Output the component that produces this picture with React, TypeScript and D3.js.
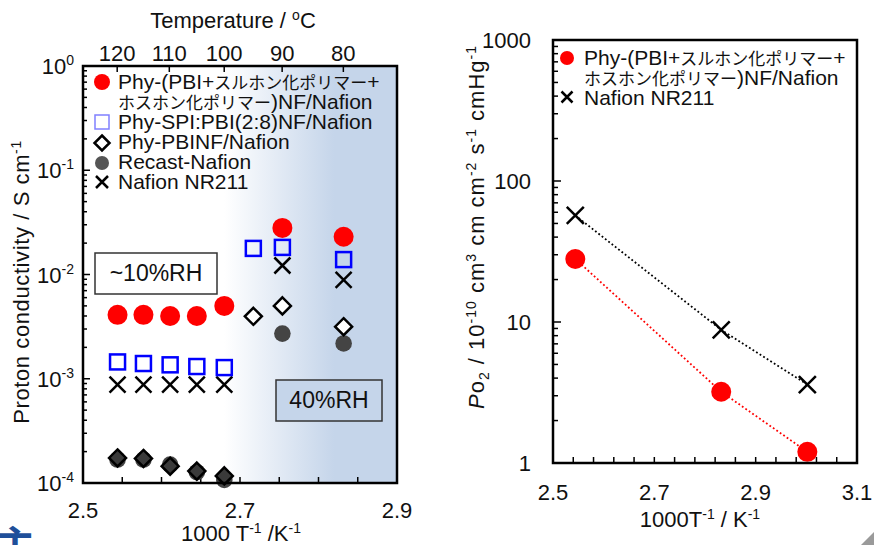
import React from 'react';
import * as d3 from 'd3';

// conductivity chart (1000/T in K^-1, S/cm)
const redX = [2.544, 2.577, 2.611, 2.645, 2.68, 2.754, 2.832];
const redY = [4.1e-3, 4.1e-3, 4.0e-3, 4.0e-3, 5.0e-3, 2.8e-2, 2.3e-2];
const spiX = [2.544, 2.577, 2.611, 2.645, 2.68, 2.717, 2.754, 2.832];
const spiY = [1.45e-3, 1.4e-3, 1.36e-3, 1.31e-3, 1.28e-3, 1.78e-2, 1.82e-2, 1.39e-2];
const pbiX = [2.544, 2.577, 2.611, 2.645, 2.68, 2.717, 2.754, 2.832];
const pbiY = [1.74e-4, 1.72e-4, 1.45e-4, 1.3e-4, 1.17e-4, 3.97e-3, 5.0e-3, 3.16e-3];
const recastX = [2.544, 2.577, 2.611, 2.645, 2.68, 2.754, 2.832];
const recastY = [1.68e-4, 1.68e-4, 1.5e-4, 1.27e-4, 1.07e-4, 2.71e-3, 2.18e-3];
const nrX = [2.544, 2.577, 2.611, 2.645, 2.68, 2.754, 2.832];
const nrY = [8.8e-4, 8.8e-4, 8.8e-4, 8.8e-4, 8.8e-4, 1.22e-2, 8.9e-3];

const leftXTicks = [2.5, 2.7, 2.9];
const tempLabels = [120, 110, 100, 90, 80];
const leftExps = [0, -1, -2, -3, -4];

// O2 permeability chart
const permX = [2.544, 2.832, 3.002];
const permPhy = [28, 3.2, 1.2];
const permNR = [57, 8.8, 3.6];
const rightXTicks = [2.5, 2.7, 2.9, 3.1];
const rightYTicks = [1, 10, 100, 1000];

// legend names split into latin / japanese runs
const phyName1 = ['Phy-(PBI+', 'スルホン化ポリマー', '+'];
const phyName2 = ['', 'ホスホン化ポリマー', ')NF/Nafion'];
const spiName = 'Phy-SPI:PBI(2:8)NF/Nafion';
const pbiName = 'Phy-PBINF/Nafion';
const recastName = 'Recast-Nafion';
const nrName = 'Nafion NR211';

const FONT = "'Liberation Sans', Arial, 'Noto Sans CJK JP', sans-serif";
const JP = "'Noto Sans CJK JP', sans-serif";
const BG = '#c5d5ea';

const Cross = ({x, y, s}: {x: number; y: number; s: number}) => (
  <path d={`M${x - s},${y - s}L${x + s},${y + s}M${x - s},${y + s}L${x + s},${y - s}`}
    stroke="#000" strokeWidth={2.5} fill="none" />
);

const Diamond = ({x, y, s, fill}: {x: number; y: number; s: number; fill: string}) => (
  <path d={`M${x},${y - s}L${x + s},${y}L${x},${y + s}L${x - s},${y}Z`}
    stroke="#000" strokeWidth={2.5} fill={fill} />
);

const MixedLine = ({x, y, parts}: {x: number; y: number; parts: string[]}) => (
  <text x={x} y={y} fontSize={21}>
    {parts[0]}<tspan fontFamily={JP} fontSize={17}>{parts[1]}</tspan>{parts[2]}
  </text>
);

function logTicks(lo: number, hi: number) {
  const out: {v: number; major: boolean}[] = [];
  for (let e = Math.round(Math.log10(lo)); e < Math.round(Math.log10(hi)); e++) {
    for (let k = 1; k <= 9; k++) out.push({v: k * Math.pow(10, e), major: k === 1});
  }
  out.push({v: hi, major: true});
  return out;
}

function LeftChart() {
  const x = d3.scaleLinear().domain([2.5, 2.9]).range([83, 397]);
  const y = d3.scaleLog().domain([1e-4, 1]).range([483, 66]);
  const [x0, x1] = x.range();
  const [yb, yt] = y.range();
  const minorX = d3.range(2.55, 2.9, 0.05);

  return (
    <g>
      <defs>
        <linearGradient id="rhBg" gradientUnits="userSpaceOnUse" x1={x(2.68)} x2={x(2.82)} y1={0} y2={0}>
          <stop offset="0" stopColor="#ffffff" />
          <stop offset="1" stopColor={BG} />
        </linearGradient>
      </defs>
      <rect x={x0} y={yt} width={x1 - x0} height={yb - yt} fill="url(#rhBg)" />

      {logTicks(1e-4, 1).map((t, i) => (
        <line key={i} x1={x0} x2={x0 + (t.major ? 7 : 4)} y1={y(t.v)} y2={y(t.v)} stroke="#000" strokeWidth={1.5} />
      ))}
      {minorX.map((v, i) => (
        <line key={i} x1={x(v)} x2={x(v)} y1={yb} y2={yb - 6} stroke="#000" strokeWidth={1.5} />
      ))}
      {tempLabels.map((t) => {
        const px = x(1000 / (t + 273.15));
        return (
          <g key={t}>
            <line x1={px} x2={px} y1={yt} y2={yt + 6} stroke="#000" strokeWidth={1.5} />
            <text x={px} y={61} textAnchor="middle" fontSize={22}>{t}</text>
          </g>
        );
      })}
      <text x={233} y={28} textAnchor="middle" fontSize={22}>
        Temperature / <tspan dy={-8} fontSize={14}>o</tspan><tspan dy={8}>C</tspan>
      </text>

      {leftXTicks.map((v) => (
        <text key={v} x={x(v)} y={518} textAnchor="middle" fontSize={22}>{v.toFixed(1)}</text>
      ))}
      {leftExps.map((e) => (
        <text key={e} x={74} y={y(Math.pow(10, e)) + 8} textAnchor="end" fontSize={22}>
          10<tspan dy={-9} fontSize={14}>{e}</tspan>
        </text>
      ))}
      <text transform="translate(29,282) rotate(-90)" textAnchor="middle" fontSize={22} letterSpacing={0.6}>
        Proton conductivity / S cm<tspan dy={-8} fontSize={14}>-1</tspan>
      </text>
      <text x={241} y={541} textAnchor="middle" fontSize={22}>
        1000 T<tspan dy={-8} fontSize={14}>-1</tspan><tspan dy={8}> /K</tspan><tspan dy={-8} fontSize={14}>-1</tspan>
      </text>

      <rect x={95} y={253} width={122} height={41} fill="#fff" stroke="#333" strokeWidth={1.5} />
      <text x={156} y={281} textAnchor="middle" fontSize={23}>~10%RH</text>
      <rect x={276} y={380} width={106} height={41} fill={BG} stroke="#333" strokeWidth={1.5} />
      <text x={329} y={408} textAnchor="middle" fontSize={23}>40%RH</text>

      {recastX.map((v, i) => (
        <circle key={i} cx={x(v)} cy={y(recastY[i])} r={8.3} fill="#444" />
      ))}
      {pbiX.map((v, i) => {
        const hit = recastX.some((w, j) => Math.abs(x(w) - x(v)) < 4 && Math.abs(y(recastY[j]) - y(pbiY[i])) < 12);
        return <Diamond key={i} x={x(v)} y={y(pbiY[i])} s={8.5} fill={hit ? '#3a3a3a' : '#fff'} />;
      })}
      {nrX.map((v, i) => (
        <Cross key={i} x={x(v)} y={y(nrY[i])} s={8} />
      ))}
      {spiX.map((v, i) => (
        <rect key={i} x={x(v) - 7.5} y={y(spiY[i]) - 7.5} width={15} height={15} fill="none" stroke="#0000ff" strokeWidth={2.5} />
      ))}
      {redX.map((v, i) => (
        <circle key={i} cx={x(v)} cy={y(redY[i])} r={10} fill="#ff0000" />
      ))}

      <circle cx={102} cy={82} r={8} fill="#ff0000" />
      <rect x={95} y={115} width={14} height={14} fill="none" stroke="#8080ff" strokeWidth={1.5} />
      <Diamond x={102} y={143} s={7.5} fill="#fff" />
      <circle cx={102} cy={163} r={7} fill="#555" />
      <Cross x={102} y={182} s={6} />
      <MixedLine x={118} y={89} parts={phyName1} />
      <MixedLine x={118} y={109} parts={phyName2} />
      {[spiName, pbiName, recastName, nrName].map((s, i) => (
        <text key={s} x={118} y={129 + i * 20} fontSize={21}>{s}</text>
      ))}

      <rect x={x0} y={yt} width={x1 - x0} height={yb - yt} fill="none" stroke="#000" strokeWidth={2.5} />
    </g>
  );
}

function RightChart() {
  const x = d3.scaleLinear().domain([2.5, 3.1]).range([553, 857]);
  const y = d3.scaleLog().domain([1, 1000]).range([463, 40]);
  const [x0, x1] = x.range();
  const [yb, yt] = y.range();
  const minorX = d3.range(2.54, 3.09, 0.04);
  const line = d3.line<number>().x((d, i) => x(permX[i])).y((d) => y(d));

  return (
    <g>
      {logTicks(1, 1000).map((t, i) => (
        <line key={i} x1={x0} x2={x0 + (t.major ? 8 : 5)} y1={y(t.v)} y2={y(t.v)} stroke="#000" strokeWidth={1.5} />
      ))}
      {minorX.map((v, i) => (
        <line key={i} x1={x(v)} x2={x(v)} y1={yb} y2={yb - 6} stroke="#000" strokeWidth={1.5} />
      ))}
      {rightXTicks.map((v) => (
        <text key={v} x={x(v)} y={500} textAnchor="middle" fontSize={22}>{v.toFixed(1)}</text>
      ))}
      {rightYTicks.map((v) => (
        <text key={v} x={531} y={y(v) + 8} textAnchor="end" fontSize={22}>{v}</text>
      ))}
      <text x={700} y={527} textAnchor="middle" fontSize={22}>
        1000T<tspan dy={-8} fontSize={14}>-1</tspan><tspan dy={8}> / K</tspan><tspan dy={-8} fontSize={14}>-1</tspan>
      </text>
      <text transform="translate(484,227) rotate(-90)" textAnchor="middle" fontSize={22} letterSpacing={1}>
        <tspan fontStyle="italic">P</tspan>o<tspan dy={5} fontSize={14}>2</tspan>
        <tspan dy={-5}> / 10</tspan><tspan dy={-8} fontSize={14}>-10</tspan>
        <tspan dy={8}> cm</tspan><tspan dy={-8} fontSize={14}>3</tspan>
        <tspan dy={8}> cm cm</tspan><tspan dy={-8} fontSize={14}>-2</tspan>
        <tspan dy={8}> s</tspan><tspan dy={-8} fontSize={14}>-1</tspan>
        <tspan dy={8}> cmHg</tspan><tspan dy={-8} fontSize={14}>-1</tspan>
      </text>

      <path d={line(permNR) || ''} fill="none" stroke="#000" strokeWidth={1.8} strokeDasharray="1.8 2.4" />
      <path d={line(permPhy) || ''} fill="none" stroke="#ff0000" strokeWidth={1.8} strokeDasharray="1.8 2.4" />
      {permX.map((v, i) => (
        <Cross key={'n' + i} x={x(v)} y={y(permNR[i])} s={8.5} />
      ))}
      {permX.map((v, i) => (
        <circle key={'p' + i} cx={x(v)} cy={y(permPhy[i])} r={10} fill="#ff0000" />
      ))}

      <circle cx={567} cy={58} r={7} fill="#ff0000" />
      <Cross x={567} y={97} s={5.5} />
      <MixedLine x={584} y={65} parts={phyName1} />
      <MixedLine x={584} y={85} parts={phyName2} />
      <text x={584} y={105} fontSize={21}>{nrName}</text>

      <rect x={x0} y={yt} width={x1 - x0} height={yb - yt} fill="none" stroke="#000" strokeWidth={2.5} />
    </g>
  );
}

export default function App() {
  return (
    <svg width={874} height={545} style={{position: 'absolute', left: 0, top: 0, background: '#fff'}}
      fontFamily={FONT} fill="#111">
      <LeftChart />
      <RightChart />
      <text x={-5} y={560} fontSize={40} fontWeight="bold" fill="#1f4f9a">主</text>
      <path d="M874,532L874,545L861,545Z" fill="#9a9a9a" />
    </svg>
  );
}
